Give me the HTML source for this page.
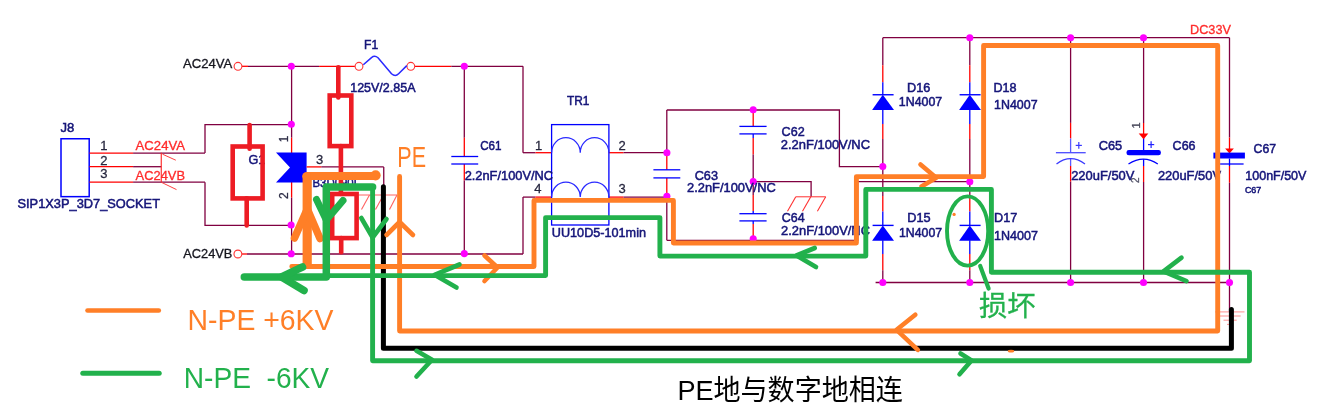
<!DOCTYPE html>
<html><head><meta charset="utf-8"><title>circuit</title>
<style>
html,body{margin:0;padding:0;background:#fff;}
body{width:1328px;height:418px;overflow:hidden;}
svg{display:block;}
text{font-family:"Liberation Sans",sans-serif;}
</style></head><body>
<svg width="1328" height="418" viewBox="0 0 1328 418">
<defs><filter id="soft" x="0" y="0" width="100%" height="100%" filterUnits="userSpaceOnUse"><feGaussianBlur stdDeviation="0.32"/></filter></defs>
<rect width="1328" height="418" fill="#fff"/>
<g id="sch" fill="none">
<line x1="242" y1="66.3" x2="248" y2="66.3" stroke="#ff0000" stroke-width="1.3" stroke-linecap="butt"/>
<line x1="248" y1="66.3" x2="319.1" y2="66.3" stroke="#800040" stroke-width="1.3" stroke-linecap="butt"/>
<line x1="319.1" y1="66.3" x2="354.9" y2="66.3" stroke="#ff0000" stroke-width="1.3" stroke-linecap="butt"/>
<line x1="414.8" y1="66.3" x2="451.3" y2="66.3" stroke="#ff0000" stroke-width="1.3" stroke-linecap="butt"/>
<line x1="451.3" y1="66.3" x2="523" y2="66.3" stroke="#800040" stroke-width="1.3" stroke-linecap="butt"/>
<line x1="523" y1="66.3" x2="523" y2="152.7" stroke="#800040" stroke-width="1.3" stroke-linecap="butt"/>
<circle cx="238" cy="66.3" r="3.9" stroke="#ff3535" stroke-width="1.1" fill="#fff"/>
<line x1="242" y1="254.0" x2="247" y2="254.0" stroke="#ff0000" stroke-width="1.3" stroke-linecap="butt"/>
<line x1="247" y1="254.0" x2="523" y2="254.0" stroke="#800040" stroke-width="1.3" stroke-linecap="butt"/>
<line x1="523" y1="254.0" x2="523" y2="197.1" stroke="#800040" stroke-width="1.3" stroke-linecap="butt"/>
<circle cx="237.9" cy="254.0" r="3.9" stroke="#ff3535" stroke-width="1.1" fill="#fff"/>
<line x1="291.6" y1="66.3" x2="291.6" y2="137.7" stroke="#800040" stroke-width="1.3" stroke-linecap="butt"/>
<line x1="291.6" y1="137.7" x2="291.6" y2="153" stroke="#ff0000" stroke-width="1.3" stroke-linecap="butt"/>
<line x1="291.6" y1="182" x2="291.6" y2="197.7" stroke="#ff0000" stroke-width="1.3" stroke-linecap="butt"/>
<line x1="291.6" y1="197.7" x2="291.6" y2="254.0" stroke="#800040" stroke-width="1.3" stroke-linecap="butt"/>
<polygon points="276,152.6 306.6,152.6 306.6,182.4 276,182.4 290,167.5" fill="#0000ff"/>
<line x1="306.6" y1="166.9" x2="321.3" y2="166.9" stroke="#ff0000" stroke-width="1.3" stroke-linecap="butt"/>
<line x1="321.3" y1="166.9" x2="383.75" y2="166.9" stroke="#800040" stroke-width="1.3" stroke-linecap="butt"/>
<line x1="383.75" y1="166.9" x2="383.75" y2="195" stroke="#800040" stroke-width="1.3" stroke-linecap="butt"/>
<line x1="358.5" y1="195" x2="397" y2="195" stroke="#ff6262" stroke-width="1" stroke-linecap="butt"/>
<line x1="369.5" y1="195" x2="361.5" y2="209.5" stroke="#ff6262" stroke-width="1.1" stroke-linecap="butt"/>
<line x1="383.5" y1="195" x2="375.5" y2="209.5" stroke="#ff6262" stroke-width="1.1" stroke-linecap="butt"/>
<line x1="397" y1="195" x2="389.5" y2="209.5" stroke="#ff6262" stroke-width="1.1" stroke-linecap="butt"/>
<rect x="61" y="138.75" width="28.2" height="57.9" stroke="#0000ff" stroke-width="1.5"/>
<line x1="89.5" y1="153.1" x2="133.1" y2="153.1" stroke="#ff0000" stroke-width="1.3" stroke-linecap="butt"/>
<line x1="133.1" y1="153.1" x2="205" y2="153.1" stroke="#800040" stroke-width="1.3" stroke-linecap="butt"/>
<line x1="89.5" y1="166.7" x2="133.1" y2="166.7" stroke="#ff0000" stroke-width="1.3" stroke-linecap="butt"/>
<line x1="133.1" y1="166.7" x2="161.2" y2="166.7" stroke="#800040" stroke-width="1.3" stroke-linecap="butt"/>
<line x1="89.5" y1="182.2" x2="133.1" y2="182.2" stroke="#ff0000" stroke-width="1.3" stroke-linecap="butt"/>
<line x1="133.1" y1="182.2" x2="205" y2="182.2" stroke="#800040" stroke-width="1.3" stroke-linecap="butt"/>
<polyline points="205,153.1 205,124.7 291.6,124.7" fill="none" stroke="#800040" stroke-width="1.3" stroke-linecap="butt" stroke-linejoin="miter"/>
<polyline points="205,182.2 205,225.3 291.6,225.3" fill="none" stroke="#800040" stroke-width="1.3" stroke-linecap="butt" stroke-linejoin="miter"/>
<line x1="161.25" y1="152.8" x2="161.25" y2="182.6" stroke="#ff2020" stroke-width="1.1" stroke-linecap="butt"/>
<line x1="162.5" y1="154.2" x2="175.8" y2="160.2" stroke="#ff4040" stroke-width="1.0" stroke-linecap="butt"/>
<line x1="161.6" y1="182.4" x2="176.5" y2="189.6" stroke="#ff4040" stroke-width="1.0" stroke-linecap="butt"/>
<circle cx="359" cy="66.3" r="3.9" stroke="#ff3535" stroke-width="1.1" fill="#fff"/>
<circle cx="410.8" cy="66.3" r="3.9" stroke="#ff3535" stroke-width="1.1" fill="#fff"/>
<path d="M363.3,64.8 L371.5,57.6 Q374.7,55 378,57.8 L391.5,73.8 Q395.3,77.2 398.6,73.8 L406.8,65.6" stroke="#2a2aff" stroke-width="1.5" stroke-linejoin="round"/>
<line x1="464.3" y1="66.3" x2="464.3" y2="137.7" stroke="#800040" stroke-width="1.3" stroke-linecap="butt"/>
<line x1="464.3" y1="137.7" x2="464.3" y2="156.5" stroke="#ff0000" stroke-width="1.3" stroke-linecap="butt"/>
<line x1="464.3" y1="164" x2="464.3" y2="180.4" stroke="#ff0000" stroke-width="1.3" stroke-linecap="butt"/>
<line x1="464.3" y1="180.4" x2="464.3" y2="254.0" stroke="#800040" stroke-width="1.3" stroke-linecap="butt"/>
<line x1="451.3" y1="156.5" x2="478.2" y2="156.5" stroke="#0000ff" stroke-width="1.3" stroke-linecap="butt"/>
<line x1="451.3" y1="164" x2="478.2" y2="164" stroke="#0000ff" stroke-width="1.3" stroke-linecap="butt"/>
<line x1="523" y1="152.7" x2="535.5" y2="152.7" stroke="#800040" stroke-width="1.3" stroke-linecap="butt"/>
<line x1="535.5" y1="152.7" x2="551.6" y2="152.7" stroke="#ff0000" stroke-width="1.3" stroke-linecap="butt"/>
<line x1="608.9" y1="152.7" x2="623.5" y2="152.7" stroke="#ff0000" stroke-width="1.3" stroke-linecap="butt"/>
<line x1="623.5" y1="152.7" x2="666.8" y2="152.7" stroke="#800040" stroke-width="1.3" stroke-linecap="butt"/>
<line x1="523" y1="197.1" x2="535.5" y2="197.1" stroke="#800040" stroke-width="1.3" stroke-linecap="butt"/>
<line x1="535.5" y1="197.1" x2="551.6" y2="197.1" stroke="#ff0000" stroke-width="1.3" stroke-linecap="butt"/>
<line x1="608.9" y1="197.1" x2="623.5" y2="197.1" stroke="#ff0000" stroke-width="1.3" stroke-linecap="butt"/>
<line x1="623.5" y1="197.1" x2="666.8" y2="197.1" stroke="#800040" stroke-width="1.3" stroke-linecap="butt"/>
<rect x="551.6" y="124.6" width="57.3" height="100.4" stroke="#0000ff" stroke-width="1.3"/>
<path d="M551.6,152.7 A14.3,15 0 0 1 580.25,152.7 A14.3,15 0 0 1 608.9,152.7" stroke="#2a2aff" stroke-width="1.3"/>
<path d="M551.6,197.1 A14.3,15 0 0 1 580.25,197.1 A14.3,15 0 0 1 608.9,197.1" stroke="#2a2aff" stroke-width="1.3"/>
<line x1="666.8" y1="110" x2="666.8" y2="152.7" stroke="#800040" stroke-width="1.3" stroke-linecap="butt"/>
<line x1="666.8" y1="152.7" x2="666.8" y2="169.8" stroke="#ff0000" stroke-width="1.3" stroke-linecap="butt"/>
<line x1="666.8" y1="177.9" x2="666.8" y2="196.5" stroke="#ff0000" stroke-width="1.3" stroke-linecap="butt"/>
<line x1="666.8" y1="196.5" x2="666.8" y2="240.3" stroke="#800040" stroke-width="1.3" stroke-linecap="butt"/>
<line x1="653.4" y1="169.8" x2="680.3" y2="169.8" stroke="#0000ff" stroke-width="1.3" stroke-linecap="butt"/>
<line x1="653.4" y1="177.9" x2="680.3" y2="177.9" stroke="#0000ff" stroke-width="1.3" stroke-linecap="butt"/>
<polyline points="666.8,110 839.4,110 839.4,166.6 882.8,166.6" fill="none" stroke="#800040" stroke-width="1.3" stroke-linecap="butt" stroke-linejoin="miter"/>
<polyline points="666.8,240.3 857.7,240.3 857.7,181.7 969.8,181.7" fill="none" stroke="#800040" stroke-width="1.3" stroke-linecap="butt" stroke-linejoin="miter"/>
<line x1="753.2" y1="110" x2="753.2" y2="126.4" stroke="#ff0000" stroke-width="1.3" stroke-linecap="butt"/>
<line x1="753.2" y1="133.9" x2="753.2" y2="138" stroke="#0000ff" stroke-width="1.3" stroke-linecap="butt"/>
<line x1="753.2" y1="138" x2="753.2" y2="154.5" stroke="#ff0000" stroke-width="1.3" stroke-linecap="butt"/>
<line x1="753.2" y1="154.5" x2="753.2" y2="195" stroke="#800040" stroke-width="1.3" stroke-linecap="butt"/>
<line x1="753.2" y1="195" x2="753.2" y2="211" stroke="#ff0000" stroke-width="1.3" stroke-linecap="butt"/>
<line x1="753.2" y1="211" x2="753.2" y2="213.7" stroke="#0000ff" stroke-width="1.3" stroke-linecap="butt"/>
<line x1="753.2" y1="220.9" x2="753.2" y2="224" stroke="#0000ff" stroke-width="1.3" stroke-linecap="butt"/>
<line x1="753.2" y1="224" x2="753.2" y2="239" stroke="#ff0000" stroke-width="1.3" stroke-linecap="butt"/>
<line x1="739.4" y1="126.4" x2="766.6" y2="126.4" stroke="#0000ff" stroke-width="1.3" stroke-linecap="butt"/>
<line x1="739.4" y1="133.9" x2="766.6" y2="133.9" stroke="#0000ff" stroke-width="1.3" stroke-linecap="butt"/>
<line x1="739.4" y1="213.7" x2="766.6" y2="213.7" stroke="#0000ff" stroke-width="1.3" stroke-linecap="butt"/>
<line x1="739.4" y1="220.9" x2="766.6" y2="220.9" stroke="#0000ff" stroke-width="1.3" stroke-linecap="butt"/>
<polyline points="753.2,181.6 811.1,181.6 811.1,196.8" fill="none" stroke="#800040" stroke-width="1.3" stroke-linecap="butt" stroke-linejoin="miter"/>
<line x1="795.8" y1="196.8" x2="825.7" y2="196.8" stroke="#ff3030" stroke-width="1" stroke-linecap="butt"/>
<line x1="795.8" y1="196.8" x2="787.5" y2="211.2" stroke="#ff3030" stroke-width="1.1" stroke-linecap="butt"/>
<line x1="810.8" y1="196.8" x2="802.5" y2="211.2" stroke="#ff3030" stroke-width="1.1" stroke-linecap="butt"/>
<line x1="825.7" y1="196.8" x2="817.4000000000001" y2="211.2" stroke="#ff3030" stroke-width="1.1" stroke-linecap="butt"/>
<line x1="882.8" y1="37.7" x2="1229.5" y2="37.7" stroke="#800040" stroke-width="1.3" stroke-linecap="butt"/>
<line x1="875.6" y1="282.5" x2="1229.5" y2="282.5" stroke="#800040" stroke-width="1.3" stroke-linecap="butt"/>
<line x1="882.8" y1="37.7" x2="882.8" y2="65.3" stroke="#800040" stroke-width="1.3" stroke-linecap="butt"/>
<line x1="882.8" y1="65.3" x2="882.8" y2="82.3" stroke="#ff0000" stroke-width="1.3" stroke-linecap="butt"/>
<line x1="882.8" y1="82.3" x2="882.8" y2="94.75" stroke="#0000ff" stroke-width="1.3" stroke-linecap="butt"/>
<line x1="882.8" y1="110" x2="882.8" y2="124.1" stroke="#0000ff" stroke-width="1.3" stroke-linecap="butt"/>
<line x1="882.8" y1="124.1" x2="882.8" y2="139" stroke="#ff0000" stroke-width="1.3" stroke-linecap="butt"/>
<line x1="882.8" y1="139" x2="882.8" y2="196" stroke="#800040" stroke-width="1.3" stroke-linecap="butt"/>
<line x1="882.8" y1="196" x2="882.8" y2="211.5" stroke="#ff0000" stroke-width="1.3" stroke-linecap="butt"/>
<line x1="882.8" y1="211.5" x2="882.8" y2="225.4" stroke="#0000ff" stroke-width="1.3" stroke-linecap="butt"/>
<line x1="882.8" y1="240.3" x2="882.8" y2="254.1" stroke="#0000ff" stroke-width="1.3" stroke-linecap="butt"/>
<line x1="882.8" y1="254.1" x2="882.8" y2="270.2" stroke="#ff0000" stroke-width="1.3" stroke-linecap="butt"/>
<line x1="882.8" y1="270.2" x2="882.8" y2="282.5" stroke="#800040" stroke-width="1.3" stroke-linecap="butt"/>
<line x1="872.5999999999999" y1="94.75" x2="893.5999999999999" y2="94.75" stroke="#0000ff" stroke-width="1.4" stroke-linecap="butt"/>
<polygon points="882.8,94.75 894.0,110.05 872.0999999999999,110.05" fill="#0000ff"/>
<line x1="872.5999999999999" y1="225.4" x2="893.5999999999999" y2="225.4" stroke="#0000ff" stroke-width="1.4" stroke-linecap="butt"/>
<polygon points="882.8,225.4 894.0,240.70000000000002 872.0999999999999,240.70000000000002" fill="#0000ff"/>
<line x1="969.8" y1="37.7" x2="969.8" y2="65.3" stroke="#800040" stroke-width="1.3" stroke-linecap="butt"/>
<line x1="969.8" y1="65.3" x2="969.8" y2="82.3" stroke="#ff0000" stroke-width="1.3" stroke-linecap="butt"/>
<line x1="969.8" y1="82.3" x2="969.8" y2="94.75" stroke="#0000ff" stroke-width="1.3" stroke-linecap="butt"/>
<line x1="969.8" y1="110" x2="969.8" y2="124.1" stroke="#0000ff" stroke-width="1.3" stroke-linecap="butt"/>
<line x1="969.8" y1="124.1" x2="969.8" y2="139" stroke="#ff0000" stroke-width="1.3" stroke-linecap="butt"/>
<line x1="969.8" y1="139" x2="969.8" y2="196" stroke="#800040" stroke-width="1.3" stroke-linecap="butt"/>
<line x1="969.8" y1="196" x2="969.8" y2="211.5" stroke="#ff0000" stroke-width="1.3" stroke-linecap="butt"/>
<line x1="969.8" y1="211.5" x2="969.8" y2="225.4" stroke="#0000ff" stroke-width="1.3" stroke-linecap="butt"/>
<line x1="969.8" y1="240.3" x2="969.8" y2="254.1" stroke="#0000ff" stroke-width="1.3" stroke-linecap="butt"/>
<line x1="969.8" y1="254.1" x2="969.8" y2="270.2" stroke="#ff0000" stroke-width="1.3" stroke-linecap="butt"/>
<line x1="969.8" y1="270.2" x2="969.8" y2="282.5" stroke="#800040" stroke-width="1.3" stroke-linecap="butt"/>
<line x1="959.5999999999999" y1="94.75" x2="980.5999999999999" y2="94.75" stroke="#0000ff" stroke-width="1.4" stroke-linecap="butt"/>
<polygon points="969.8,94.75 981.0,110.05 959.0999999999999,110.05" fill="#0000ff"/>
<line x1="959.5999999999999" y1="225.4" x2="980.5999999999999" y2="225.4" stroke="#0000ff" stroke-width="1.4" stroke-linecap="butt"/>
<polygon points="969.8,225.4 981.0,240.70000000000002 959.0999999999999,240.70000000000002" fill="#0000ff"/>
<line x1="1070.6" y1="37.7" x2="1070.6" y2="122.9" stroke="#800040" stroke-width="1.3" stroke-linecap="butt"/>
<line x1="1070.6" y1="122.9" x2="1070.6" y2="138.5" stroke="#ff0000" stroke-width="1.3" stroke-linecap="butt"/>
<line x1="1070.6" y1="138.5" x2="1070.6" y2="152.7" stroke="#5a5aff" stroke-width="1.3" stroke-linecap="butt"/>
<line x1="1070.6" y1="158.6" x2="1070.6" y2="166" stroke="#5a5aff" stroke-width="1.3" stroke-linecap="butt"/>
<line x1="1070.6" y1="166" x2="1070.6" y2="181.7" stroke="#ff0000" stroke-width="1.3" stroke-linecap="butt"/>
<line x1="1070.6" y1="181.7" x2="1070.6" y2="282.5" stroke="#800040" stroke-width="1.3" stroke-linecap="butt"/>
<line x1="1055.9" y1="152.7" x2="1085.7" y2="152.7" stroke="#4a4aff" stroke-width="1.3" stroke-linecap="butt"/>
<path d="M1056.5,164 Q1070.6,153.4 1085,164" stroke="#3a3aff" stroke-width="1.3"/>
<line x1="1075.7" y1="145.4" x2="1081.9" y2="145.4" stroke="#3a3aff" stroke-width="1.2" stroke-linecap="butt"/>
<line x1="1078.8" y1="142.1" x2="1078.8" y2="148.7" stroke="#3a3aff" stroke-width="1.2" stroke-linecap="butt"/>
<line x1="1143.6" y1="37.7" x2="1143.6" y2="123" stroke="#800040" stroke-width="1.3" stroke-linecap="butt"/>
<line x1="1143.6" y1="123" x2="1143.6" y2="135" stroke="#ff0000" stroke-width="1.3" stroke-linecap="butt"/>
<line x1="1143.6" y1="138" x2="1143.6" y2="150" stroke="#0000ff" stroke-width="1.3" stroke-linecap="butt"/>
<line x1="1143.6" y1="159.2" x2="1143.6" y2="166" stroke="#0000ff" stroke-width="1.3" stroke-linecap="butt"/>
<line x1="1143.6" y1="166" x2="1143.6" y2="182" stroke="#ff0000" stroke-width="1.3" stroke-linecap="butt"/>
<line x1="1143.6" y1="182" x2="1143.6" y2="282.5" stroke="#800040" stroke-width="1.3" stroke-linecap="butt"/>
<polygon points="1138.7,133.4 1148.3,133.4 1143.6,139.2" fill="#ff0000"/>
<rect x="1126.5" y="149.9" width="34.4" height="5.4" rx="2.4" fill="#0000ff"/>
<path d="M1128.5,164 Q1143.6,154.4 1157.8,164" stroke="#0000ff" stroke-width="1.3"/>
<line x1="1148" y1="144.6" x2="1154.2" y2="144.6" stroke="#2020ff" stroke-width="1.2" stroke-linecap="butt"/>
<line x1="1151.1" y1="141.2" x2="1151.1" y2="148" stroke="#2020ff" stroke-width="1.2" stroke-linecap="butt"/>
<line x1="1229.5" y1="37.7" x2="1229.5" y2="137.5" stroke="#800040" stroke-width="1.3" stroke-linecap="butt"/>
<line x1="1229.5" y1="137.5" x2="1229.5" y2="149.5" stroke="#ff0000" stroke-width="1.3" stroke-linecap="butt"/>
<line x1="1229.5" y1="158.5" x2="1229.5" y2="166" stroke="#0000ff" stroke-width="1.3" stroke-linecap="butt"/>
<line x1="1229.5" y1="166" x2="1229.5" y2="182.75" stroke="#ff0000" stroke-width="1.3" stroke-linecap="butt"/>
<line x1="1229.5" y1="182.75" x2="1229.5" y2="312" stroke="#800040" stroke-width="1.3" stroke-linecap="butt"/>
<polygon points="1225.1,148.6 1233.9,148.6 1229.5,153.6" fill="#ff0000"/>
<rect x="1213.4" y="152.6" width="31.5" height="5.9" fill="#0000ff"/>
<line x1="1220.1" y1="164" x2="1243.6" y2="164" stroke="#0000ff" stroke-width="1.3" stroke-linecap="butt"/>
<line x1="1215.1" y1="311.9" x2="1244.5" y2="311.9" stroke="#ff9a9a" stroke-width="1.1" stroke-linecap="butt"/>
<line x1="1220" y1="316" x2="1240.7" y2="316" stroke="#ff9a9a" stroke-width="1.1" stroke-linecap="butt"/>
<line x1="1223.5" y1="320.2" x2="1236.7" y2="320.2" stroke="#ff9a9a" stroke-width="1.1" stroke-linecap="butt"/>
<line x1="1227" y1="324.4" x2="1233" y2="324.4" stroke="#ff9a9a" stroke-width="1.1" stroke-linecap="butt"/>
<circle cx="291.3" cy="66.3" r="3.55" fill="#ff00ff"/>
<circle cx="291.3" cy="124.2" r="3.55" fill="#ff00ff"/>
<circle cx="291.1" cy="225" r="3.55" fill="#ff00ff"/>
<circle cx="291.2" cy="253.8" r="3.55" fill="#ff00ff"/>
<circle cx="464.3" cy="66.3" r="3.55" fill="#ff00ff"/>
<circle cx="464.3" cy="253.6" r="3.55" fill="#ff00ff"/>
<circle cx="666.9" cy="152.7" r="3.55" fill="#ff00ff"/>
<circle cx="666.9" cy="196.3" r="3.55" fill="#ff00ff"/>
<circle cx="753.2" cy="109.8" r="3.55" fill="#ff00ff"/>
<circle cx="753.2" cy="181.6" r="3.55" fill="#ff00ff"/>
<circle cx="753.2" cy="238.8" r="3.55" fill="#ff00ff"/>
<circle cx="882.8" cy="166.6" r="3.55" fill="#ff00ff"/>
<circle cx="969.8" cy="181.7" r="3.55" fill="#ff00ff"/>
<circle cx="969.8" cy="37.7" r="3.55" fill="#ff00ff"/>
<circle cx="1070.6" cy="37.7" r="3.55" fill="#ff00ff"/>
<circle cx="1143.5" cy="37.7" r="3.55" fill="#ff00ff"/>
<circle cx="882.8" cy="282.5" r="3.55" fill="#ff00ff"/>
<circle cx="969.8" cy="282.5" r="3.55" fill="#ff00ff"/>
<circle cx="1070.6" cy="282.5" r="3.55" fill="#ff00ff"/>
<circle cx="1143.5" cy="282.5" r="3.55" fill="#ff00ff"/>
<circle cx="1229.5" cy="282.6" r="3.55" fill="#ff00ff"/>
</g>
<g id="txt" filter="url(#soft)">
<text x="182.9" y="68.3" font-size="13" fill="#15151f" stroke="#15151f" stroke-width="0.3" textLength="49.40" lengthAdjust="spacingAndGlyphs">AC24VA</text>
<text x="183.3" y="257.8" font-size="13" fill="#15151f" stroke="#15151f" stroke-width="0.3" textLength="49.10" lengthAdjust="spacingAndGlyphs">AC24VB</text>
<text x="60.6" y="131.8" font-size="13" fill="#141478" stroke="#141478" stroke-width="0.5" textLength="13.80" lengthAdjust="spacingAndGlyphs">J8</text>
<text x="100.2" y="150" font-size="13" fill="#26263e" stroke="#26263e" stroke-width="0.28">1</text>
<text x="100.2" y="164.6" font-size="13" fill="#26263e" stroke="#26263e" stroke-width="0.28">2</text>
<text x="100.2" y="177.6" font-size="13" fill="#26263e" stroke="#26263e" stroke-width="0.28">3</text>
<text x="135.6" y="150" font-size="13" fill="#ff2a2a" stroke="#ff2a2a" stroke-width="0.3" textLength="49.40" lengthAdjust="spacingAndGlyphs">AC24VA</text>
<text x="135.6" y="180" font-size="13" fill="#ff2a2a" stroke="#ff2a2a" stroke-width="0.3" textLength="49.40" lengthAdjust="spacingAndGlyphs">AC24VB</text>
<text x="17.5" y="208" font-size="13" fill="#141478" stroke="#141478" stroke-width="0.5" textLength="142.50" lengthAdjust="spacingAndGlyphs">SIP1X3P_3D7_SOCKET</text>
<text x="248.5" y="163.6" font-size="13" fill="#141478" stroke="#141478" stroke-width="0.5" textLength="16.90" lengthAdjust="spacingAndGlyphs">G1</text>
<text transform="translate(283.6,138.9) rotate(-90)" text-anchor="middle" font-size="12" fill="#2c2c46" stroke="#2c2c46" stroke-width="0.3" y="4.32">1</text>
<text transform="translate(283.6,195.7) rotate(-90)" text-anchor="middle" font-size="12" fill="#2c2c46" stroke="#2c2c46" stroke-width="0.3" y="4.32">2</text>
<text x="316" y="163.9" font-size="13" fill="#26263e" stroke="#26263e" stroke-width="0.28">3</text>
<text x="312.5" y="186.5" font-size="13" fill="#141478" stroke="#141478" stroke-width="0.5" textLength="47.50" lengthAdjust="spacingAndGlyphs">B3D090L</text>
<text x="364.1" y="48.6" font-size="13" fill="#141478" stroke="#141478" stroke-width="0.5" textLength="14.10" lengthAdjust="spacingAndGlyphs">F1</text>
<text x="350.2" y="92.2" font-size="13" fill="#141478" stroke="#141478" stroke-width="0.5" textLength="65.30" lengthAdjust="spacingAndGlyphs">125V/2.85A</text>
<text x="480.2" y="150.2" font-size="13" fill="#141478" stroke="#141478" stroke-width="0.5" textLength="21.40" lengthAdjust="spacingAndGlyphs">C61</text>
<text x="464.7" y="180.2" font-size="13" fill="#141478" stroke="#141478" stroke-width="0.5" textLength="88.30" lengthAdjust="spacingAndGlyphs">2.2nF/100V/NC</text>
<text x="567" y="105.4" font-size="13" fill="#141478" stroke="#141478" stroke-width="0.5" textLength="22.50" lengthAdjust="spacingAndGlyphs">TR1</text>
<text x="535" y="150" font-size="13" fill="#26263e" stroke="#26263e" stroke-width="0.28">1</text>
<text x="618.6" y="150" font-size="13" fill="#26263e" stroke="#26263e" stroke-width="0.28">2</text>
<text x="618.6" y="193" font-size="13" fill="#26263e" stroke="#26263e" stroke-width="0.28">3</text>
<text x="534.2" y="193" font-size="13" fill="#26263e" stroke="#26263e" stroke-width="0.28">4</text>
<text x="551.8" y="237" font-size="13" fill="#141478" stroke="#141478" stroke-width="0.5" textLength="94.20" lengthAdjust="spacingAndGlyphs">UU10D5-101min</text>
<text x="781.6" y="135.7" font-size="13" fill="#141478" stroke="#141478" stroke-width="0.5" textLength="23.10" lengthAdjust="spacingAndGlyphs">C62</text>
<text x="780.8" y="148.6" font-size="13" fill="#141478" stroke="#141478" stroke-width="0.5" textLength="89.20" lengthAdjust="spacingAndGlyphs">2.2nF/100V/NC</text>
<text x="694.7" y="179.6" font-size="13" fill="#141478" stroke="#141478" stroke-width="0.5" textLength="23.30" lengthAdjust="spacingAndGlyphs">C63</text>
<text x="687" y="191.8" font-size="13" fill="#141478" stroke="#141478" stroke-width="0.5" textLength="88.80" lengthAdjust="spacingAndGlyphs">2.2nF/100V/NC</text>
<text x="781.7" y="221.6" font-size="13" fill="#141478" stroke="#141478" stroke-width="0.5" textLength="22.90" lengthAdjust="spacingAndGlyphs">C64</text>
<text x="781.1" y="235.3" font-size="13" fill="#141478" stroke="#141478" stroke-width="0.5" textLength="88.90" lengthAdjust="spacingAndGlyphs">2.2nF/100V/NC</text>
<text x="907" y="92.4" font-size="13" fill="#141478" stroke="#141478" stroke-width="0.5" textLength="23.40" lengthAdjust="spacingAndGlyphs">D16</text>
<text x="898.8" y="106" font-size="13" fill="#141478" stroke="#141478" stroke-width="0.5" textLength="43.40" lengthAdjust="spacingAndGlyphs">1N4007</text>
<text x="993.5" y="92.4" font-size="13" fill="#141478" stroke="#141478" stroke-width="0.5" textLength="23.10" lengthAdjust="spacingAndGlyphs">D18</text>
<text x="994.1" y="109.1" font-size="13" fill="#141478" stroke="#141478" stroke-width="0.5" textLength="43.50" lengthAdjust="spacingAndGlyphs">1N4007</text>
<text x="907.2" y="222.2" font-size="13" fill="#141478" stroke="#141478" stroke-width="0.5" textLength="23.40" lengthAdjust="spacingAndGlyphs">D15</text>
<text x="899" y="236.6" font-size="13" fill="#141478" stroke="#141478" stroke-width="0.5" textLength="43.10" lengthAdjust="spacingAndGlyphs">1N4007</text>
<text x="994" y="222.2" font-size="13" fill="#141478" stroke="#141478" stroke-width="0.5" textLength="23.30" lengthAdjust="spacingAndGlyphs">D17</text>
<text x="994" y="240.2" font-size="13" fill="#141478" stroke="#141478" stroke-width="0.5" textLength="43.90" lengthAdjust="spacingAndGlyphs">1N4007</text>
<text x="1098.7" y="150" font-size="13" fill="#141478" stroke="#141478" stroke-width="0.5" textLength="23.50" lengthAdjust="spacingAndGlyphs">C65</text>
<text x="1071.2" y="179.8" font-size="13" fill="#141478" stroke="#141478" stroke-width="0.5" textLength="63.20" lengthAdjust="spacingAndGlyphs">220uF/50V</text>
<text x="1172.6" y="150" font-size="13" fill="#141478" stroke="#141478" stroke-width="0.5" textLength="23.00" lengthAdjust="spacingAndGlyphs">C66</text>
<text x="1157.9" y="179.8" font-size="13" fill="#141478" stroke="#141478" stroke-width="0.5" textLength="63.10" lengthAdjust="spacingAndGlyphs">220uF/50V</text>
<text x="1253.6" y="152.6" font-size="13" fill="#141478" stroke="#141478" stroke-width="0.5" textLength="22.60" lengthAdjust="spacingAndGlyphs">C67</text>
<text x="1245.3" y="179.9" font-size="13" fill="#141478" stroke="#141478" stroke-width="0.5" textLength="61.10" lengthAdjust="spacingAndGlyphs">100nF/50V</text>
<text x="1244.9" y="193.2" font-size="9" fill="#141478" stroke="#141478" stroke-width="0.5" textLength="16.30" lengthAdjust="spacingAndGlyphs">C67</text>
<text x="1190" y="34.3" font-size="13" fill="#ff2a2a" stroke="#ff2a2a" stroke-width="0.3" textLength="41.00" lengthAdjust="spacingAndGlyphs">DC33V</text>
<text transform="translate(1135.6,125.4) rotate(-90)" text-anchor="middle" font-size="11" fill="#4a4a5c" stroke="#4a4a5c" stroke-width="0.3" y="3.96">1</text>
<text transform="translate(1135.8,180.3) rotate(-90)" text-anchor="middle" font-size="10" fill="#55556a" stroke="#55556a" stroke-width="0.3" y="3.60">2</text>
</g>
<g id="ann" fill="none" stroke-linecap="round" stroke-linejoin="round">
<g stroke="#ed1c24" stroke-width="4.6" stroke-linejoin="miter">
<rect x="232.7" y="146.5" width="29.9" height="51.9"/>
<line x1="249.6" y1="125" x2="249.6" y2="148.8"/>
<line x1="246.7" y1="198.4" x2="246.7" y2="225.5"/>
<rect x="329.7" y="95.5" width="21.6" height="50.6"/>
<line x1="338.3" y1="67.2" x2="338.3" y2="97.5"/>
<line x1="340.9" y1="146.1" x2="340.9" y2="194"/>
<rect x="332.2" y="194" width="24.4" height="44.1"/>
<line x1="341.2" y1="238.1" x2="341.2" y2="252.2"/>
</g>
<polyline points="383.4,186.8 383.4,348.2 1231.4,348.2 1231.4,309.4" stroke="#000000" stroke-width="5" stroke-linejoin="round"/>
<g stroke="#ff7f27">
<polyline points="291.8,266.5 534,266.5 534,200.4 673.4,200.4 673.4,243 856.4,243 856.4,176.6 983.6,176.6 983.6,45.5 1217.7,45.5 1217.7,331 399.6,331 399.6,176.4" stroke-width="4.9" stroke-linejoin="round"/>
<polyline points="376.6,175.9 306,175.9" stroke-width="8" stroke-linecap="butt"/><polyline points="307.2,174.5 307.2,268.9" stroke-width="9.2" stroke-linecap="butt"/><circle cx="306.6" cy="176.2" r="4.3" fill="#ff7f27" stroke="none"/><circle cx="375.6" cy="175.3" r="5.1" fill="#ff7f27" stroke="none"/>
<polyline points="294.5,238 307.3,209 320,238.5" stroke-width="7.5" stroke-linejoin="miter"/>
<polyline points="386.5,235 399.6,222 413,235" stroke-width="4.6"/>
<polyline points="484.5,255.5 497.5,267.5 484.5,281" stroke-width="4.6"/>
<polyline points="920.5,164.5 936.2,177.8 921.5,186.5" stroke-width="4.6"/>
<polyline points="915.3,314.8 896.6,329.8 917.8,349.8" stroke-width="4.6"/>
</g>
<circle cx="954.1" cy="214.4" r="1.6" fill="#ff7f27"/>
<ellipse cx="1011" cy="351.2" rx="3.2" ry="1.4" fill="#ff7f27"/>
<g stroke="#22b14c">
<polyline points="328,275.6 545.6,275.6 545.6,217.6 659.9,217.6 659.9,256.1 865.8,256.1 865.8,189.4 991.4,189.4 991.4,272.2 1249.5,272.2 1249.5,360.8 372.6,360.8 372.6,187" stroke-width="4.9" stroke-linejoin="round"/>
<polyline points="244.3,276.9 326.3,276.9 326.3,186.9 372.6,186.9" stroke-width="7.5" stroke-linejoin="round"/>
<polyline points="302.5,267 281.5,276.9 304,290.5" stroke-width="7.6"/>
<polyline points="316.5,199.5 326.3,220 343,200.5" stroke-width="7"/>
<polyline points="361.3,218 372.6,237.5 386.5,219" stroke-width="4.6"/>
<polyline points="459.5,264.5 434.5,274.8 456.5,287.5" stroke-width="4.6"/>
<polyline points="416.5,350.8 432,359.8 416.5,376.5" stroke-width="4.6"/>
<polyline points="814.8,248 796.5,255.5 816,267" stroke-width="4.6"/>
<polyline points="960.5,353.5 971.5,360.4 959.5,374.2" stroke-width="4.6"/>
<polyline points="1181.5,257.6 1163.5,271.4 1186.5,281.2" stroke-width="4.6"/>
<ellipse cx="967.6" cy="231" rx="20.6" ry="34.6" stroke-width="3.9"/>
<line x1="980.2" y1="266" x2="988.6" y2="288.6" stroke-width="4.2"/>
</g>
<line x1="87.5" y1="310.5" x2="158.8" y2="310.5" stroke="#ff7f27" stroke-width="4.6"/>
<line x1="82.8" y1="373.3" x2="159.2" y2="373.3" stroke="#22b14c" stroke-width="5"/>
</g>
<text x="187.5" y="329.75" font-size="29" fill="#ff7f27" textLength="146" lengthAdjust="spacingAndGlyphs" xml:space="preserve" style="font-family:'Liberation Sans',sans-serif;">N-PE +6KV</text>
<text x="183.75" y="387.75" font-size="29" fill="#22b14c" textLength="145.3" lengthAdjust="spacingAndGlyphs" xml:space="preserve" style="font-family:'Liberation Sans',sans-serif;">N-PE  -6KV</text>
<text x="397.3" y="167" font-size="29" fill="#ff7f27" textLength="28.7" lengthAdjust="spacingAndGlyphs" style="font-family:'Liberation Sans',sans-serif;">PE</text>
<text x="677.4" y="400.2" font-size="28" fill="#000000" textLength="225.5" lengthAdjust="spacingAndGlyphs" style="font-family:'Liberation Sans','Noto Sans CJK SC',sans-serif;">PE地与数字地相连</text>
<text x="979" y="316.3" font-size="28" fill="#22b14c" stroke="#22b14c" stroke-width="0.3" textLength="56.5" lengthAdjust="spacingAndGlyphs" style="font-family:'Liberation Sans','Noto Sans CJK SC',sans-serif;">损坏</text>
</svg>
</body></html>
